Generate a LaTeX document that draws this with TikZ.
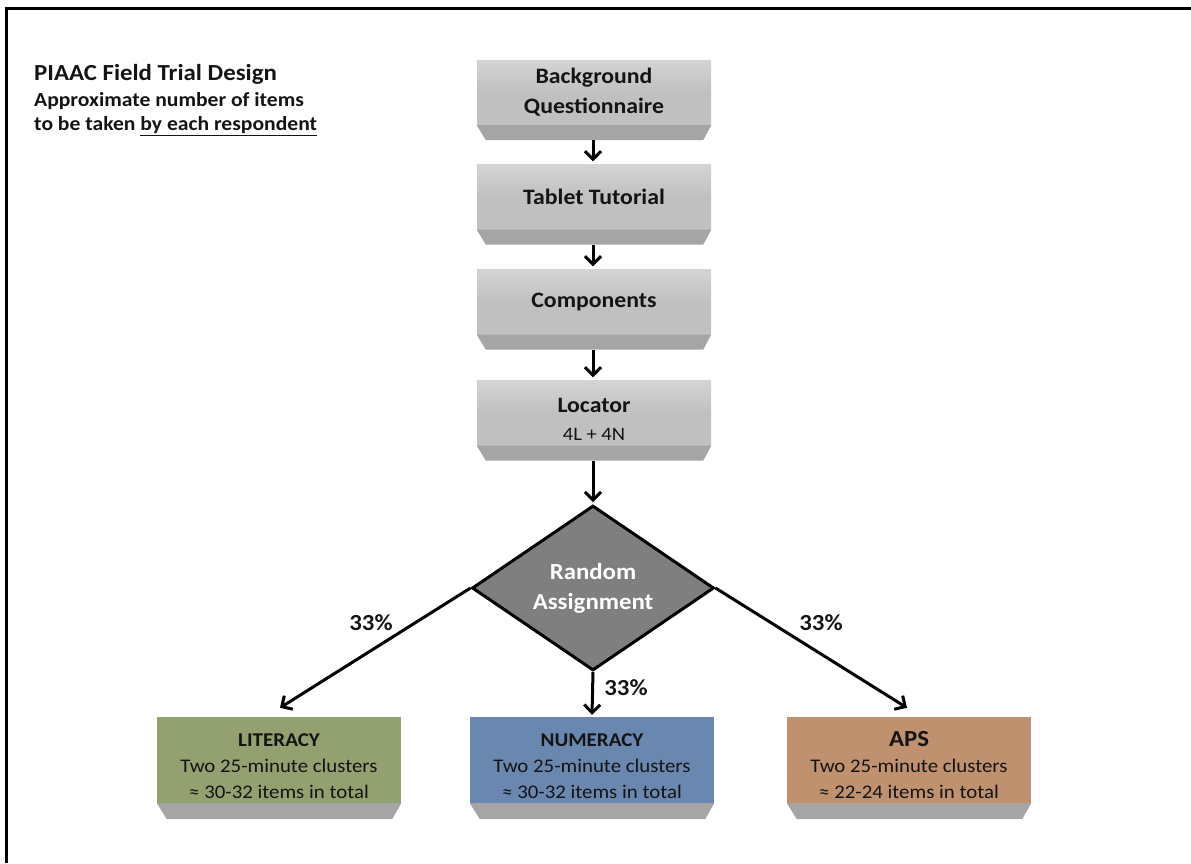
\documentclass[tikz,border=0pt]{standalone}
\usepackage{fontspec}
\setmainfont{Carlito}[FakeStretch=1.08]
\usetikzlibrary{arrows.meta,shapes.geometric,calc}
\definecolor{facegray}{RGB}{192,192,192}
\definecolor{facelight}{RGB}{212,212,212}
\definecolor{bevelgray}{RGB}{165,165,165}
\definecolor{diagray}{RGB}{127,127,127}
\definecolor{litgreen}{RGB}{147,161,112}
\definecolor{numblue}{RGB}{106,135,176}
\definecolor{apsbrown}{RGB}{192,145,110}
\definecolor{txt}{RGB}{20,20,20}
\begin{document}
\begin{tikzpicture}[x=1pt,y=-1pt, text=txt,
  gbox/.style={rectangle, top color=facelight, bottom color=facegray, middle color=facegray, minimum width=234pt, minimum height=65pt, inner sep=0pt, align=center, font=\bfseries\fontsize{22}{30}\selectfont},
  cbox/.style={rectangle, minimum width=244pt, minimum height=86pt, inner sep=0pt, align=center, font=\fontsize{19.3}{26}\selectfont},
  bevel/.style={fill=bevelgray},
  conn/.style={line width=3pt, -{Straight Barb[length=8pt,width=16pt,line width=3pt]}},
  pct/.style={font=\bfseries\fontsize{23}{26}\selectfont},
  ttl/.style={anchor=west, inner sep=0pt, font=\bfseries\fontsize{20}{24}\selectfont}
]
\useasboundingbox (0,0) rectangle (1191,863);
\draw[line width=3pt] (6,863) -- (6,8) -- (1191,8);

% title
\node[ttl, font=\bfseries\fontsize{23}{26}\selectfont] (t1) at (34,74) {PIAAC Field Trial Design};
\node[ttl] (t2) at (34,101) {Approximate number of items};
\node[ttl] (t3) at (34,126) {to be taken \underline{by each respondent}};

% gray boxes
\node[gbox] (bq) at (594,92.5) {Background\\Questionnaire};
\node[gbox] (tt) at (594,197) {Tablet Tutorial};
\node[gbox] (co) at (594,302) {Components};
\node[gbox] (lo) at (594,413) {\rule{0pt}{26pt}Locator\\[-2pt]{\mdseries\fontsize{19}{22}\selectfont 4L + 4N}};

\foreach \n in {bq,tt,co,lo}{
  \fill[bevel] (\n.south west) -- (\n.south east) -- ($(\n.south east)+(-8,15)$) -- ($(\n.south west)+(9,15)$) -- cycle;
  \coordinate (\n b) at ($(\n.south)+(-1,15)$);
}

% diamond
\node[diamond, aspect=1.47, minimum width=242pt, minimum height=165pt, inner sep=0pt, fill=diagray, draw=black, line width=3pt, align=center, text=white, font=\bfseries\fontsize{23}{30}\selectfont] (ra) at (593,588) {Random\\Assignment};

% bottom boxes
\node[cbox, fill=litgreen] (lit) at (279,760) {\rule{0pt}{25pt}{\bfseries\fontsize{19.5}{26}\selectfont LITERACY}\\Two 25-minute clusters\\≈ 30-32 items in total};
\node[cbox, fill=numblue] (num) at (592,760) {\rule{0pt}{25pt}{\bfseries\fontsize{19.5}{26}\selectfont NUMERACY}\\Two 25-minute clusters\\≈ 30-32 items in total};
\node[cbox, fill=apsbrown] (aps) at (909,760) {\rule{0pt}{25pt}{\bfseries\fontsize{23}{26}\selectfont APS}\\Two 25-minute clusters\\≈ 22-24 items in total};

\foreach \n in {lit,num,aps}{
  \fill[bevel] (\n.south west) -- (\n.south east) -- ($(\n.south east)+(-9,16)$) -- ($(\n.south west)+(10,16)$) -- cycle;
}

% connectors
\draw[conn] (bqb) -- ($(tt.north)+(-1,-3)$);
\draw[conn] (ttb) -- ($(co.north)+(-1,-3)$);
\draw[conn] (cob) -- ($(lo.north)+(-1,-3)$);
\draw[conn] (lob) -- ($(ra.north)+(0,-2)$);
\draw[conn] (ra.west) -- ($(lit.north)+(1,-9)$);
\draw[conn] (ra.east) -- ($(aps.north)+(-2,-9)$);
\draw[conn] (ra.south) -- ($(num.north)+(0,-2)$);

% percentages
\node[pct] (p1) at (371,623) {33\%};
\node[pct] (p2) at (821,623) {33\%};
\node[pct] (p3) at (626,688) {33\%};
\end{tikzpicture}
\end{document}
